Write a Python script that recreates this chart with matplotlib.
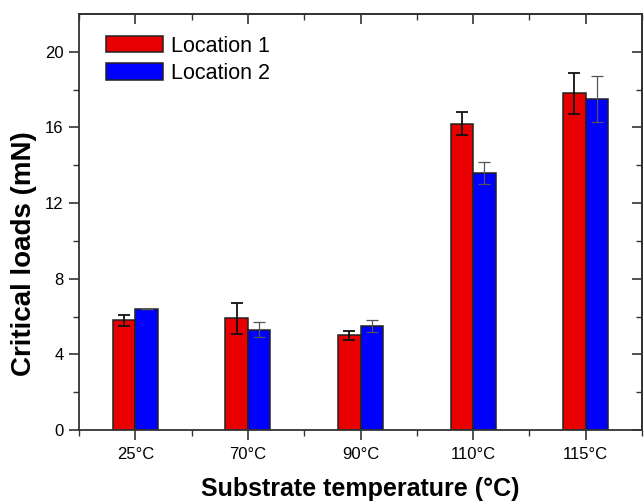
import matplotlib
matplotlib.use("Agg")
import matplotlib.pyplot as plt
import numpy as np

plt.rcParams['font.family'] = ['Liberation Sans', 'DejaVu Sans']

temperatures = ["25°C", "70°C", "90°C", "110°C", "115°C"]
loc1_values = [5.8, 5.9, 5.0, 16.2, 17.8]
loc1_errors = [0.3, 0.8, 0.25, 0.6, 1.1]
loc2_values = [6.4, 5.3, 5.5, 13.6, 17.5]
loc2_errors = [0.0, 0.4, 0.3, 0.6, 1.2]

fig = plt.figure(figsize=(6.44, 5.01), dpi=100)
ax = fig.add_axes([0.1227, 0.1417, 0.8742, 0.8303])

x = np.arange(len(temperatures))
width = 0.2
ax.bar(x - width / 2, loc1_values, width, color="#E80000", edgecolor="#222222",
       linewidth=1.1, label="Location 1", zorder=2)
ax.bar(x + width / 2, loc2_values, width, color="#0000FF", edgecolor="#222222",
       linewidth=1.1, label="Location 2", zorder=2)
ax.errorbar(x - width / 2, loc1_values, yerr=loc1_errors, fmt="none",
            ecolor="#111111", elinewidth=1.3, capsize=4, capthick=1.3, zorder=3)
ax.errorbar(x + width / 2, loc2_values, yerr=loc2_errors, fmt="none",
            ecolor="#555555", elinewidth=0.9, capsize=4, capthick=0.9, zorder=3)

ax.set_xlim(-0.5, 4.5)
ax.set_ylim(0, 22)
ax.set_xticks(x)
ax.set_xticklabels(temperatures, fontsize=12)
ax.set_xticks(np.arange(-0.5, 4.6, 1.0), minor=True)
ax.set_yticks([0, 4, 8, 12, 16, 20])
ax.set_yticks([2, 6, 10, 14, 18], minor=True)
ax.tick_params(axis="y", labelsize=12, pad=4)
ax.tick_params(axis="x", pad=5)
ax.tick_params(which="major", direction="out", length=7, width=1.2, color="#333333")
ax.tick_params(which="minor", direction="out", length=4, width=1.0, color="#333333")

for s in ax.spines.values():
    s.set_linewidth(1.3)
    s.set_color("#333333")

# Mirrored ticks on top and right, pointing inward
top = ax.secondary_xaxis("top")
top.set_xticks(x)
top.set_xticks(np.arange(-0.5, 4.6, 1.0), minor=True)
top.tick_params(which="major", direction="in", length=7, width=1.2, color="#333333", labeltop=False)
top.tick_params(which="minor", direction="in", length=4, width=1.0, color="#333333")
top.spines["top"].set_linewidth(1.3)
top.spines["top"].set_color("#333333")
right = ax.secondary_yaxis("right")
right.set_yticks([0, 4, 8, 12, 16, 20])
right.set_yticks([2, 6, 10, 14, 18], minor=True)
right.tick_params(which="major", direction="in", length=7, width=1.2, color="#333333", labelright=False)
right.tick_params(which="minor", direction="in", length=4, width=1.0, color="#333333")
right.spines["right"].set_linewidth(1.3)
right.spines["right"].set_color("#333333")

ax.set_xlabel("Substrate temperature (°C)", fontsize=18, fontweight="bold", va="center")
ax.xaxis.set_label_coords(0.5, -0.142)
ax.set_ylabel("Critical loads (mN)", fontsize=20, fontweight="bold", va="center")
ax.yaxis.set_label_coords(-0.098, 0.425)

leg = ax.legend(loc="upper left", bbox_to_anchor=(0.048, 0.948), frameon=False,
                fontsize=15.5, handlelength=2.65, handleheight=0.8, handletextpad=0.35,
                labelspacing=0.3, borderaxespad=0.0, borderpad=0.0)

fig.savefig("out.png", dpi=100)
